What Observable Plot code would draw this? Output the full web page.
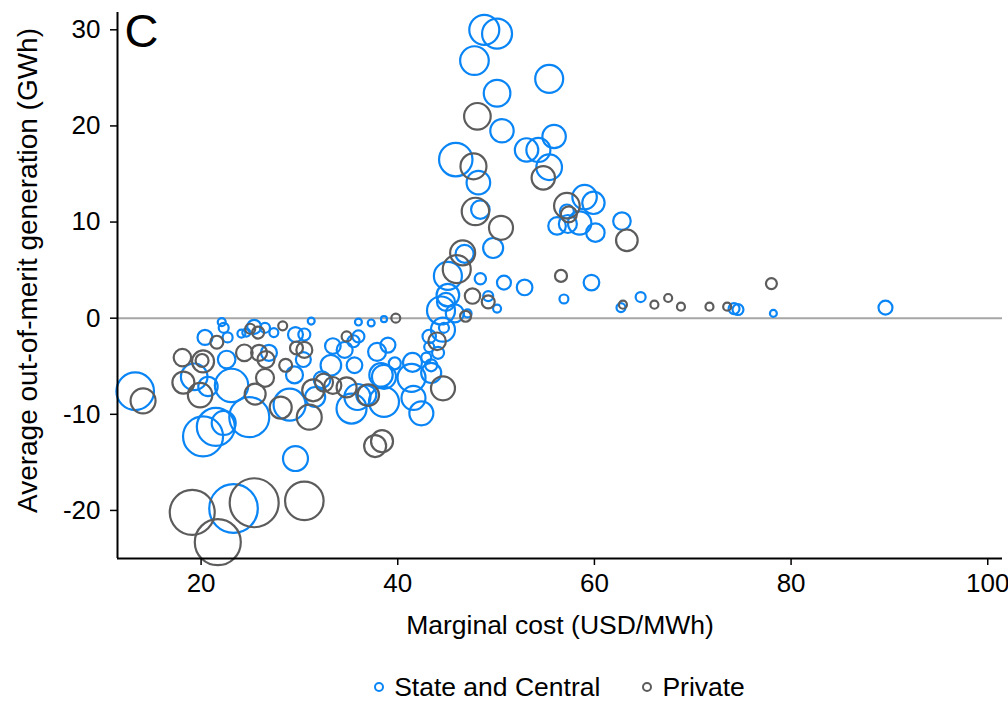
<!DOCTYPE html>
<html>
<head>
<meta charset="utf-8">
<script src="https://cdn.jsdelivr.net/npm/d3@7"></script>
<script src="https://cdn.jsdelivr.net/npm/@observablehq/plot@0.6"></script>
<style>
  body { margin: 0; background: #fff; font-family: "Liberation Sans", Arial, sans-serif; }
  #chart svg { display: block; }
  #legend { margin-left: 117px; width: 885px; display: flex; justify-content: center; align-items: center; font-size: 26.5px; color: #000; margin-top: 22px; line-height: 30px; }
  .item { display: flex; align-items: center; }
  .sw { width: 6px; height: 6px; border-radius: 50%; border: 2px solid; margin-right: 10px; }
</style>
</head>
<body>
<div id="chart"></div>
<div id="legend">
  <div class="item"><span class="sw" style="border-color:#0a85f5"></span>State and Central</div>
  <div class="item" style="margin-left:42px"><span class="sw" style="border-color:#5c5c5c"></span>Private</div>
</div>
<script>
// State and Central: marginal cost (USD/MWh), out-of-merit generation (GWh), plant size
const stateX = [48.8,50.1,47.8,55.4,50.1,50.6,45.9,48.2,55.9,53.1,54.3,55.4,48.4,49.7,46.8,59.0,59.9,57.2,56.2,57.3,58.5,60.1,62.8,45.1,48.4,50.8,52.9,59.7,49.2,50.1,56.9,62.7,64.7,74.2,74.6,78.2,89.6,45.1,44.9,44.4,45.8,47.1,38.6,44.6,44.7,43.2,43.2,44.1,39.0,39.7,41.5,42.9,43.4,43.4,41.4,38.6,41.6,42.4,38.6,31.2,36.0,37.3,27.4,29.6,30.5,36.0,35.5,33.4,34.6,30.4,29.5,33.2,35.6,37.9,38.3,32.3,35.9,35.3,36.8,29.0,31.6,22.1,22.3,20.4,22.7,24.1,24.6,25.4,26.5,22.6,26.9,19.3,20.7,23.1,13.3,24.9,20.2,21.5,22.3,29.6,23.3];
const stateY = [30.0,29.6,26.8,24.9,23.4,19.5,16.5,14.1,18.9,17.5,17.5,15.7,11.3,7.3,6.7,12.6,12.0,11.1,9.6,9.8,9.9,8.9,10.1,4.4,4.1,3.7,3.2,3.7,2.3,1.0,2.0,1.1,2.2,1.0,0.9,0.5,1.1,2.4,1.7,0.8,0.5,0.5,-0.1,-1.2,-1.0,-1.9,-3.0,-3.6,-2.8,-4.7,-4.6,-4.1,-4.9,-5.7,-6.2,-6.1,-8.3,-9.9,-8.7,-0.3,-0.4,-0.5,-1.5,-1.7,-1.7,-1.9,-2.4,-2.9,-3.3,-4.3,-5.9,-4.9,-4.9,-3.5,-5.9,-6.4,-8.2,-9.4,-8.0,-9.0,-8.2,-0.4,-1.0,-2.0,-2.0,-1.6,-1.5,-0.9,-1.0,-4.3,-3.6,-6.1,-7.1,-7.0,-7.6,-10.3,-12.3,-11.3,-10.9,-14.6,-19.8];
const stateSize = [225,225,205,196,177,137,279,139,137,137,144,164,86,100,81,149,125,49,77,81,137,85,77,196,32,49,61,61,25,16,20,20,25,30,30,12,49,128,81,196,81,16,9,144,25,45,25,36,56,36,90,25,36,100,196,144,144,144,225,12,12,12,20,56,36,36,36,61,64,56,72,106,61,81,137,69,169,225,100,256,100,16,25,56,25,16,16,49,25,77,64,177,94,279,353,400,400,361,144,156,590];

// Private
const privX = [48.1,47.7,54.8,47.9,50.5,46.6,57.2,57.4,63.3,46.0,56.6,47.6,49.2,62.9,66.1,67.5,68.8,71.7,73.5,78.0,46.9,39.8,44.0,44.6,28.3,34.8,29.7,30.5,28.6,31.4,32.5,33.4,34.8,37.0,28.1,31.0,37.7,38.4,21.6,25.0,25.8,18.1,20.2,20.1,24.4,25.9,26.6,18.2,19.9,26.5,25.5,14.1,19.1,25.4,30.5,21.7];
const privY = [21.0,15.8,14.6,11.1,9.4,6.8,11.7,10.8,8.1,5.1,4.4,2.3,1.7,1.4,1.4,2.1,1.2,1.2,1.2,3.6,0.2,0.0,-2.4,-7.3,-0.8,-1.9,-3.1,-3.3,-4.9,-7.5,-6.7,-7.0,-7.2,-8.0,-9.3,-10.3,-13.3,-12.8,-2.5,-1.1,-1.5,-4.1,-4.5,-4.4,-3.6,-3.6,-4.3,-6.7,-8.0,-6.2,-7.9,-8.6,-20.2,-19.2,-19.0,-23.3];
const privSize = [177,169,137,188,144,156,164,64,117,196,36,59,42,16,16,16,16,16,16,30,30,20,77,144,20,25,42,64,42,121,81,72,100,117,121,156,121,121,42,25,36,76,121,42,69,64,72,121,149,81,110,156,506,600,372,529];

const xTicks = [20, 40, 60, 80, 100];
const yTicks = [-20, -10, 0, 10, 20, 30];

const state = stateX.map((x, i) => ({x, y: stateY[i], s: stateSize[i]}));
const priv = privX.map((x, i) => ({x, y: privY[i], s: privSize[i]}));

const BLUE = "#0a85f5", GRAY = "#5c5c5c";
const FONT = "Liberation Sans, Arial, sans-serif";

const chart = Plot.plot({
  width: 1008,
  height: 650,
  marginLeft: 117,
  marginRight: 6,
  marginTop: 12,
  marginBottom: 92,
  style: {fontFamily: FONT, background: "#fff", color: "#000"},
  x: {domain: [11.5, 101.5], label: null},
  y: {domain: [-25, 31.8], label: null},
  r: {type: "sqrt", domain: [0, 600], range: [0, 24.5]},
  marks: [
    Plot.ruleY([0], {stroke: "#a6a6a6", strokeWidth: 2}),
    Plot.dot(state, {x: "x", y: "y", r: "s", stroke: BLUE, strokeWidth: 2.2, fill: "none"}),
    Plot.dot(priv, {x: "x", y: "y", r: "s", stroke: GRAY, strokeWidth: 2.2, fill: "none"}),
    Plot.ruleY([-25], {stroke: "#000", strokeWidth: 2}),
    Plot.ruleX([11.5], {stroke: "#000", strokeWidth: 2}),
    Plot.axisX({ticks: xTicks, tickSize: 7, tickPadding: 8, fontSize: 26, label: null, tickFormat: d => String(d), strokeWidth: 1.5}),
    Plot.axisY({ticks: yTicks, tickSize: 7, tickPadding: 10, fontSize: 26, label: null, tickFormat: d => String(d), strokeWidth: 1.5}),
    Plot.text(["Marginal cost (USD/MWh)"], {frameAnchor: "bottom", dy: 67, fontSize: 26.5, textAnchor: "middle", lineAnchor: "middle", fill: "#000"}),
    Plot.text(["Average out-of-merit generation (GWh)"], {frameAnchor: "left", dx: -89, dy: -15, rotate: -90, fontSize: 28, textAnchor: "middle", lineAnchor: "middle", fill: "#000"}),
    Plot.text(["C"], {frameAnchor: "top-left", dx: 7, dy: 1, fontSize: 47, textAnchor: "start", lineAnchor: "top", fill: "#000"})
  ]
});
document.getElementById("chart").appendChild(chart);
</script>
</body>
</html>
